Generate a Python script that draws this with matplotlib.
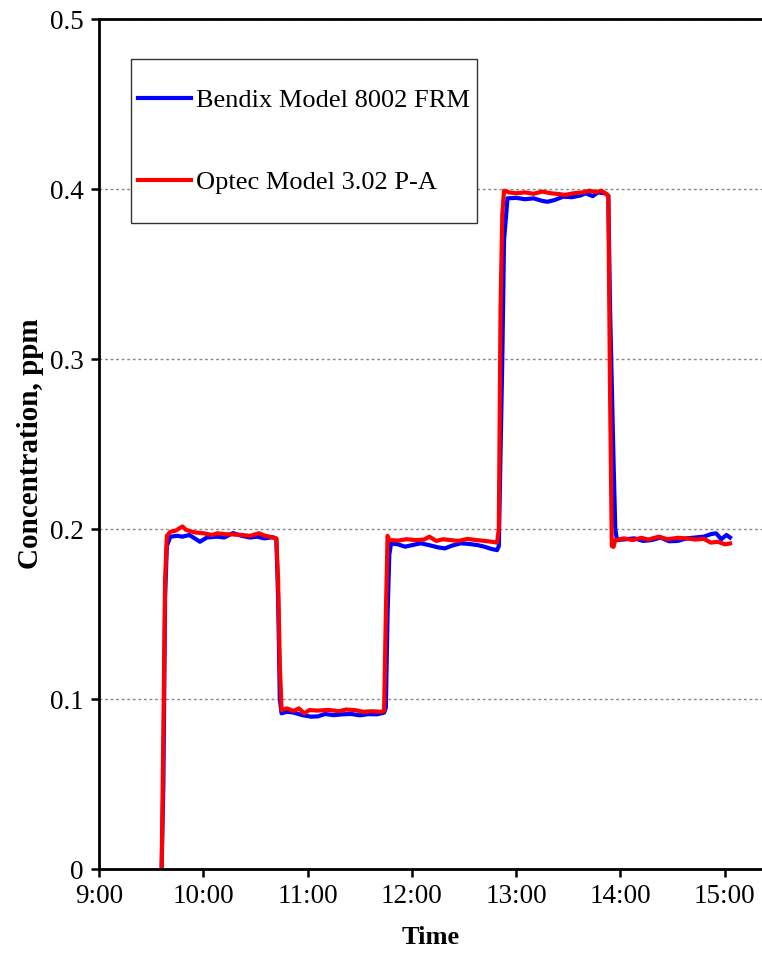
import numpy as np
import matplotlib
matplotlib.use("Agg")
import matplotlib.pyplot as plt
from matplotlib.ticker import FuncFormatter, MultipleLocator
from matplotlib.patches import Rectangle

# Bendix Model 8002 FRM readings (clock time, ppm)
bendix_time = ["9:36", "9:37", "9:38", "9:39", "9:41", "9:45", "9:48", "9:52", "9:55", "9:58",
               "10:02", "10:08", "10:12", "10:17", "10:22", "10:27", "10:31", "10:35", "10:40", "10:42",
               "10:43", "10:44", "10:45", "10:48", "10:52", "10:57", "11:02", "11:06", "11:10", "11:15",
               "11:20", "11:25", "11:30", "11:35", "11:40", "11:44", "11:45", "11:46", "11:47", "11:48",
               "11:52", "11:56", "12:00", "12:05", "12:10", "12:15", "12:19", "12:23", "12:28", "12:33",
               "12:38", "12:42", "12:46", "12:49", "12:50", "12:52", "12:53", "12:55", "13:00", "13:05",
               "13:10", "13:15", "13:18", "13:22", "13:27", "13:32", "13:37", "13:40", "13:44", "13:47",
               "13:51", "13:53", "13:54", "13:56", "13:57", "13:58", "14:03", "14:08", "14:13", "14:18",
               "14:23", "14:28", "14:33", "14:38", "14:43", "14:48", "14:52", "14:55", "14:58", "15:01",
               "15:03"]
bendix_ppm = [0.0, 0.05, 0.16, 0.19, 0.1955, 0.196, 0.1955, 0.1965, 0.1945, 0.1925,
              0.195, 0.1955, 0.195, 0.1976, 0.196, 0.195, 0.1955, 0.1945, 0.1952, 0.194,
              0.16, 0.10, 0.0916, 0.0925, 0.092, 0.0905, 0.0896, 0.0898, 0.0912, 0.0905,
              0.091, 0.0912, 0.0904, 0.0911, 0.091, 0.092, 0.095, 0.15, 0.185, 0.1915,
              0.191, 0.1896, 0.1905, 0.1916, 0.1905, 0.1892, 0.1886, 0.1902, 0.1916, 0.1912,
              0.1905, 0.1895, 0.1882, 0.1876, 0.19, 0.30, 0.37, 0.3945, 0.3948, 0.394,
              0.3945, 0.393, 0.3925, 0.3935, 0.3955, 0.3952, 0.3962, 0.3975, 0.3958, 0.398,
              0.3975, 0.396, 0.33, 0.24, 0.20, 0.1935, 0.194, 0.1945, 0.193, 0.1935,
              0.195, 0.1928, 0.193, 0.1945, 0.195, 0.1955, 0.197, 0.1975, 0.194, 0.1965,
              0.195]

# Optec Model 3.02 P-A readings
optec_time = ["9:36", "9:37", "9:38", "9:39", "9:41", "9:44", "9:48", "9:50", "9:55", "10:00",
              "10:05", "10:08", "10:12", "10:17", "10:22", "10:27", "10:32", "10:35", "10:38", "10:42",
              "10:43", "10:44", "10:45", "10:48", "10:52", "10:55", "10:58", "11:01", "11:06", "11:12",
              "11:18", "11:22", "11:27", "11:32", "11:37", "11:42", "11:44", "11:45", "11:46", "11:47",
              "11:52", "11:57", "12:02", "12:07", "12:10", "12:14", "12:18", "12:22", "12:27", "12:32",
              "12:37", "12:42", "12:46", "12:49", "12:50", "12:51", "12:52", "12:53", "12:56", "13:00",
              "13:05", "13:10", "13:15", "13:20", "13:25", "13:28", "13:33", "13:38", "13:42", "13:46",
              "13:49", "13:52", "13:53", "13:54", "13:55", "13:56", "13:57", "14:02", "14:07", "14:12",
              "14:16", "14:22", "14:27", "14:33", "14:38", "14:43", "14:48", "14:52", "14:56", "15:00",
              "15:03"]
optec_ppm = [0.0, 0.08, 0.17, 0.196, 0.1984, 0.199, 0.2015, 0.1995, 0.198, 0.1975,
             0.1965, 0.1975, 0.197, 0.1968, 0.1965, 0.196, 0.1975, 0.1962, 0.1955, 0.1945,
             0.17, 0.12, 0.0935, 0.0945, 0.093, 0.0945, 0.0916, 0.0935, 0.0932, 0.0936,
             0.0928, 0.0938, 0.0935, 0.0925, 0.0928, 0.0925, 0.093, 0.15, 0.196, 0.1935,
             0.1932, 0.194, 0.1935, 0.1938, 0.1955, 0.193, 0.194, 0.1935, 0.193, 0.1942,
             0.1935, 0.193, 0.1925, 0.192, 0.20, 0.33, 0.385, 0.399, 0.398, 0.3975,
             0.398, 0.3972, 0.3985, 0.3975, 0.397, 0.3965, 0.3975, 0.398, 0.399, 0.3982,
             0.399, 0.397, 0.396, 0.28, 0.19, 0.1895, 0.1935, 0.1945, 0.1935, 0.1948,
             0.1938, 0.1955, 0.194, 0.1948, 0.1945, 0.1938, 0.1942, 0.192, 0.1925, 0.191,
             0.1915]


def to_hours(labels):
    out = []
    for s in labels:
        h, m = s.split(":")
        out.append(int(h) + int(m) / 60)
    return np.array(out)


plt.rcParams['font.family'] = ['Liberation Serif', 'DejaVu Serif']

fig = plt.figure(figsize=(7.62, 9.75), dpi=100)
ax = fig.add_axes([0.13, 0.1087, 0.87, 0.8718])

ax.plot(to_hours(bendix_time), bendix_ppm, color='#0000ff', lw=3, label='Bendix Model 8002 FRM')
ax.plot(to_hours(optec_time), optec_ppm, color='#ff0000', lw=3, label='Optec Model 3.02 P-A')

ax.set_xlim(9, 15.357)
ax.set_ylim(0, 0.5)
ax.xaxis.set_major_locator(MultipleLocator(1))
ax.yaxis.set_major_locator(MultipleLocator(0.1))
ax.xaxis.set_major_formatter(FuncFormatter(lambda v, p: f"{int(round(v))}:00"))
ax.yaxis.set_major_formatter(FuncFormatter(lambda v, p: "0" if abs(v) < 1e-9 else f"{v:.1f}"))

ax.grid(axis='y', color='#888888', linestyle=(0, (2, 2)), lw=1)
ax.set_axisbelow(True)
ax.spines['right'].set_visible(False)
for s in ['left', 'bottom', 'top']:
    ax.spines[s].set_linewidth(2)
ax.tick_params(direction='out', length=6, width=1.8, labelsize=19.5, pad=5)

ax.set_xlabel('Time', fontsize=19, fontweight='bold', labelpad=12)
ax.set_ylabel('Concentration, ppm', fontsize=21, fontweight='bold', labelpad=4)

# legend: box drawn separately (small side padding, tall rows)
ax.add_patch(Rectangle((0.0483, 0.76), 0.522, 0.193, transform=ax.transAxes,
                       facecolor='white', edgecolor='#333333', lw=1, zorder=4))
leg = ax.legend(loc='center left', bbox_to_anchor=(0.0588, 0.856), borderaxespad=0,
                borderpad=0, fontsize=19, frameon=False,
                handlelength=2.0, handletextpad=0.19, labelspacing=2.2)
leg.set_zorder(5)

fig.savefig('out.png', dpi=100)
